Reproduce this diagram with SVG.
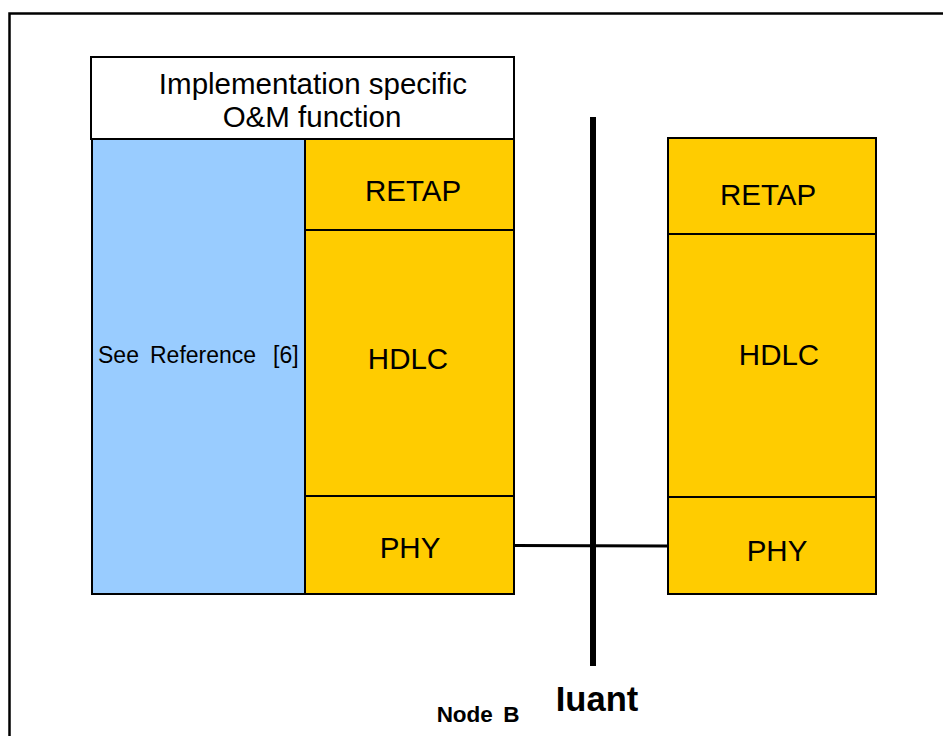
<svg xmlns="http://www.w3.org/2000/svg" width="943" height="736" viewBox="0 0 943 736">
<style>
.box{stroke:#000;stroke-width:2}
.org{fill:#FFCC00}
.blu{fill:#99CCFF}
.wht{fill:#fff}
.t{font-family:"Liberation Sans",Arial,sans-serif;fill:#000;text-anchor:middle}
.L{font-size:29.5px}
.b{font-weight:bold}
</style>
<rect x="0" y="0" width="943" height="736" fill="#fff"/>
<g id="frame"><path d="M9.5,760 V13.5 H960" fill="none" stroke="#000" stroke-width="2.5"/></g>
<g id="om">
<rect class="box wht" x="91" y="57" width="423" height="82"/>
<text class="t L" x="313" y="94">Implementation specific</text>
<text class="t L" x="312" y="127">O&amp;M function</text>
</g>
<g id="seeref">
<rect class="box blu" x="92" y="139" width="213" height="455"/>
<text class="t" font-size="23" style="text-anchor:start" y="363"><tspan x="98">See</tspan><tspan x="150">Reference</tspan><tspan x="273">[6]</tspan></text>
</g>
<g id="retap-l">
<rect class="box org" x="305" y="139" width="209" height="91"/>
<text class="t L" x="413" y="201">RETAP</text>
</g>
<g id="hdlc-l">
<rect class="box org" x="305" y="230" width="209" height="266"/>
<text class="t L" x="408" y="369">HDLC</text>
</g>
<g id="phy-l">
<rect class="box org" x="305" y="496" width="209" height="98"/>
<text class="t L" x="410" y="558">PHY</text>
</g>
<g id="retap-r">
<rect class="box org" x="668" y="138" width="208" height="96"/>
<text class="t L" x="768" y="205">RETAP</text>
</g>
<g id="hdlc-r">
<rect class="box org" x="668" y="234" width="208" height="263"/>
<text class="t L" x="779" y="365">HDLC</text>
</g>
<g id="phy-r">
<rect class="box org" x="668" y="497" width="208" height="97"/>
<text class="t L" x="777" y="561">PHY</text>
</g>
<g id="iuant">
<rect x="590" y="117" width="6" height="549" fill="#000"/>
<text class="t b" x="597" y="711" font-size="34.5">Iuant</text>
</g>
<g id="nodeb-label">
<text class="t b" x="478" y="722" font-size="22.5" word-spacing="4">Node B</text>
</g>
<g id="connectors">
<line x1="514" y1="545.5" x2="668" y2="546" stroke="#000" stroke-width="3"/>
</g>
</svg>
